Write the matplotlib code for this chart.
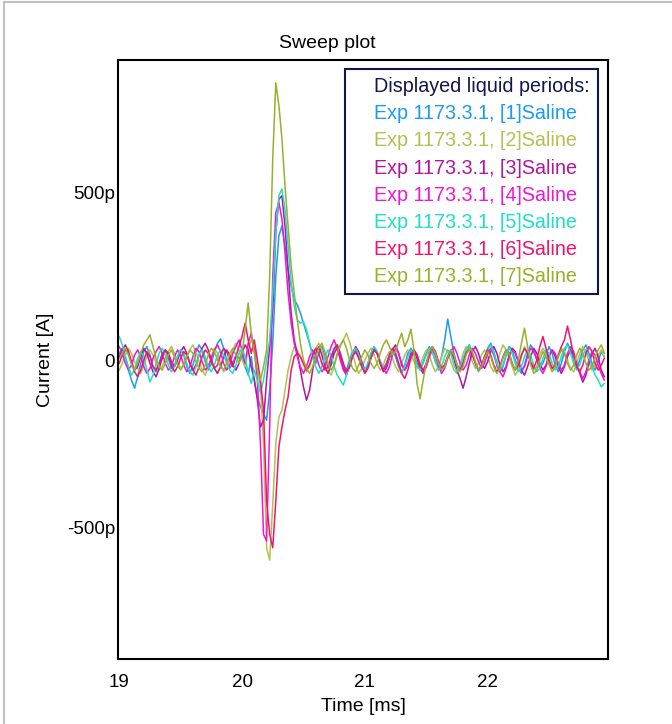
import numpy as np
import matplotlib.pyplot as plt
from matplotlib.lines import Line2D

plt.rcParams['font.family'] = ['Liberation Sans', 'DejaVu Sans']

# sampled every 0.025 ms from 19.0 ms, current in pA
t0 = 19.0
dt = 0.025

blue = [20, 35, 10, -30, -60, -84, -50, -10, 25, 40, 15, -20, -35, -10, 20, 30, 5, -25, -15, 10,
        30, 15, -20, -40, -15, 20, 45, 30, -5, -30, -10, 25, 50, 63, 35, 0, -25, -10, 15, 5,
        15, -20, -45, 10, -60, -110, -140, -160, -180, -90, 50, 250, 370, 400, 340, 270, 220, 180, 165, 140,
        110, 80, 50, 15, -10, 20, 40, 10, -25, -5, 30, 45, 20, -15, -30, 0, 25, 35, 10, -20,
        -35, -10, 20, 40, 25, -5, -25, -10, 15, 30, 10, -20, -40, -15, 20, 35, 15, -10, -30, -5,
        20, 40, 25, -5, -20, 10, 60, 122, 70, 20, -15, -30, -5, 25, 45, 20, -10, -30, -15, 10,
        35, 50, 25, -10, -35, -20, 15, 40, 30, 0, -25, -40, -15, 20, 45, 30, 5, -20, -10, 15,
        40, 20, -15, -35, -10, 25, 50, 30, -5, -25, 0, 30, 45, 20, -10, -30, -5, 25, 10]

yellowgreen = [-30, -10, 15, 35, 20, -5, -25, -40, -15, 10, 30, 15, -10, -30, -20, 5, 25, 40, 20, -5,
               -25, -15, 10, 30, 45, 25, -5, -30, -45, -20, 10, 35, 20, -10, -35, -25, 5, 30, 50, 30,
               0, -20, 30, 60, 40, -30, -80, -250, -560, -597, -430, -250, -170, -150, -90, -30, 10, 40, 30, 10,
               -15, -35, -20, 10, 35, 50, 30, 0, -30, -45, -20, 15, 40, 60, 80, 55, 20, -15, -40, -25,
               0, 20, 35, 15, -10, -30, -15, 10, 25, 5, -20, -35, -10, 15, 30, 20, -5, -25, -15, 10,
               30, 15, -15, -35, -20, 10, 35, 25, -5, -30, -40, -15, 20, 40, 25, -5, -25, -10, 15, 30,
               10, -20, -35, -15, 20, 45, 30, 5, -20, -45, -30, 10, 40, 20, -10, -30, -20, 15, 35, 20,
               -5, -30, -20, 10, 35, 25, 0, -25, -35, -10, 20, 40, 25, -5, -30, -15, 15, 30, 10]

purple = [10, 30, 45, 25, -5, -30, -20, 10, 35, 20, -10, -35, -50, -25, 5, 30, 20, -5, -20, 0,
          25, 40, 20, -10, -30, -15, 15, 35, 50, 30, 0, -25, -40, -20, 10, 30, 15, -15, -30, -10,
          20, 45, 30, -20, -60, -120, -200, -180, -60, 40, 150, 380, 480, 490, 400, 270, 140, 60, 20, -30,
          -80, -120, -90, -30, 20, 40, 15, -20, -40, -15, 20, 35, 10, -25, -40, -20, 15, 40, 25, -5,
          -30, -15, 15, 35, 20, -10, -35, -25, 5, 30, 45, 20, -15, -30, -10, 20, 30, 5, -25, -40,
          -20, 15, 35, 20, -10, -30, -15, 10, 25, 5, -30, -55, -84, -50, -10, 25, 40, 20, -10, -25,
          -5, 25, 40, 20, -15, -35, -20, 15, 35, 25, -5, -30, -45, -20, 10, 35, 20, -10, -30, -15,
          15, 30, 10, -20, -40, -20, 10, 30, 15, -15, -40, -66, -45, -10, 20, 35, 10, -30, -50]

magenta = [40, 20, -10, -30, -15, 15, 30, 10, -20, -40, -25, 5, 25, 40, 20, -10, -30, -20, 10, 30,
           15, -15, -35, -20, 10, 35, 25, -5, -30, -20, 5, 30, 45, 25, -10, -30, -15, 20, 40, 60,
           30, -10, 50, 80, 30, -60, -250, -520, -540, -200, 250, 440, 470, 420, 320, 200, 110, 50, 10, -20,
           -40, -20, 10, 30, 15, -15, -35, -20, 10, 40, 60, 35, 0, -30, -45, -20, 15, 30, 10, -15,
           -35, -20, 10, 30, 20, -5, -25, -40, -20, 15, 35, 20, -10, -30, -15, 10, 30, 15, -15, -35,
           -20, 10, 30, 15, -20, -40, -25, 5, 25, 40, 20, -10, -30, -15, 15, 35, 20, -5, -25, -10,
           20, 35, 15, -15, -35, -50, -25, 10, 30, 20, -5, -30, -20, 10, 35, 25, 0, -25, -40, -20,
           10, 30, 20, -10, -30, -15, 20, 40, 25, -10, -35, -55, -35, 0, 25, 15, -15, -40, -60]

turquoise = [70, 45, 10, -20, -45, -30, 5, 25, 10, -30, -65, -45, -10, 20, 35, 15, -15, -35, -20, 10,
             30, 20, -10, -35, -45, -20, 15, 30, 10, -20, -35, -15, 15, 30, 15, -10, -30, -40, -15, 20,
             35, 10, -40, -70, -30, -60, -100, -60, 0, 60, 200, 380, 490, 510, 450, 340, 230, 160, 120, 110,
             115, 90, 50, 10, -20, -40, -20, 10, 30, 15, -20, -45, -60, -75, -45, -10, 20, 35, 15, -15,
             -30, -10, 20, 40, 25, -5, -25, -15, 10, 30, 20, -10, -35, -20, 10, 30, 15, -15, -30, -10,
             15, 35, 25, -5, -30, -20, 10, 30, 20, -15, -35, -25, 5, 30, 45, 25, -10, -35, -20, 10,
             30, 45, 20, -10, -30, -15, 15, 35, 20, -10, -35, -20, 10, 30, 15, -15, -35, -25, 5, 30,
             20, -10, -30, -20, 10, 35, 45, 20, -10, -30, -15, 15, 30, 10, -20, -45, -60, -80, -70]

deeppink = [-10, 15, 30, 20, -10, -35, -50, -30, 0, 25, 10, -20, -30, -10, 15, 30, 15, -15, -35, -20,
            5, 25, 15, -10, -30, -45, -20, 10, 30, 20, -5, -25, -15, 15, 35, 25, 0, -20, 10, 40,
            70, 110, 60, 20, 60, 0, -60, -150, -420, -520, -560, -420, -260, -200, -150, -110, -30, 10, 20, 10,
            -10, -30, -15, 15, 35, 20, -10, -30, -20, 10, 35, 45, 20, -10, -35, -20, 10, 25, 5, -20,
            -40, -25, 5, 30, 20, -10, -30, -15, 15, 35, 20, -10, -40, -55, -30, 5, 30, 15, -15, -30,
            -10, 20, 40, 25, -5, -25, -15, 10, 30, 15, -15, -30, -10, 20, 35, 15, -10, -30, -20, 10,
            30, 15, -15, -35, -20, 10, 30, 20, -10, -30, -15, 15, 35, 20, -5, -25, 0, 40, 70, 35,
            0, -25, -15, 15, 40, 60, 101, 60, 15, -20, -35, -15, 20, 40, 25, -10, -30, -15, 5]

olive = [5, 20, 35, 15, -15, -30, -10, 20, 45, 60, 75, 40, 5, -20, -30, -10, 15, 30, 10, -15,
         -30, -15, 10, 30, 20, -5, -25, -35, -15, 15, 35, 25, 0, -20, -30, -10, 20, 35, 15, -10,
         20, 90, 170, 80, 20, -30, -60, -20, 30, 250, 600, 827, 760, 660, 520, 400, 280, 200, 120, 50,
         0, -25, -40, -20, 10, 35, 50, 25, -10, -30, -15, 20, 45, 60, 35, 0, -25, -35, -15, 10,
         30, 15, -10, -25, -10, 20, 45, 60, 40, 15, 25, 55, 80, 40, 60, 92, 30, -70, -116, -60,
         -10, 25, 40, 20, -10, -30, -20, 10, 30, 15, -15, -35, -20, 15, 35, 25, -5, -30, -20, 5,
         25, 10, -20, -40, -25, 5, 30, 20, -10, -30, 0, 50, 95, 40, -15, -40, -30, 0, 25, 10,
         -15, -35, -20, 10, 30, 20, -10, -30, -15, 15, 35, 20, -10, -30, -20, 10, 30, 45, 20]

traces = [blue, yellowgreen, purple, magenta, turquoise, deeppink, olive]
colors = ['#1a9cf2', '#b5c050', '#b0169e', '#ee18d4', '#1edfc8', '#f0146c', '#9bb02a']
labels = ['Exp 1173.3.1, [%d]Saline' % (k + 1) for k in range(7)]
legend_title = 'Displayed liquid periods:'
navy = '#141450'

fig = plt.figure(figsize=(6.72, 7.24), dpi=100)
ax = fig.add_axes([118 / 672, 1 - 659 / 724, 490 / 672, 599 / 724])

for y, c in zip(traces, colors):
    t = t0 + dt * np.arange(len(y))
    ax.plot(t, y, color=c, lw=1.1)

ax.set_xlim(18.99, 22.98)
ax.set_ylim(-892, 895)
ax.set_xticks([19, 20, 21, 22])
ax.set_yticks([-500, 0, 500])
ax.set_yticklabels(['-500p', '0', '500p'])
ax.tick_params(axis='both', length=0, labelsize=13.5)
ax.tick_params(axis='x', pad=11)
ax.tick_params(axis='y', pad=2)
for s in ax.spines.values():
    s.set_linewidth(1.5)
    s.set_color('black')

ax.set_xlabel('Time [ms]', fontsize=14, labelpad=5)
ax.set_ylabel('Current [A]', fontsize=14, labelpad=9)
ax.set_title('Sweep plot', fontsize=14, x=0.4265, pad=9)

handles = [Line2D([], [], color='none') for _ in range(8)]
leg = ax.legend(handles, [legend_title] + labels, loc='upper right',
                bbox_to_anchor=(0.9796, 0.985), borderaxespad=0,
                fontsize=14.2, labelcolor=[navy] + colors,
                handlelength=0.75, handletextpad=0.3, labelspacing=0.41,
                borderpad=0.42, fancybox=False, framealpha=1)
leg.get_frame().set_edgecolor(navy)
leg.get_frame().set_linewidth(1.5)

# panel border
fig.add_artist(Line2D([4 / 672, 4 / 672], [0, 1 - 2 / 724], color='#c0c0c0', lw=1.5))
fig.add_artist(Line2D([4 / 672, 1], [1 - 2 / 724, 1 - 2 / 724], color='#c0c0c0', lw=1.5))

fig.savefig('out.png', dpi=100)
